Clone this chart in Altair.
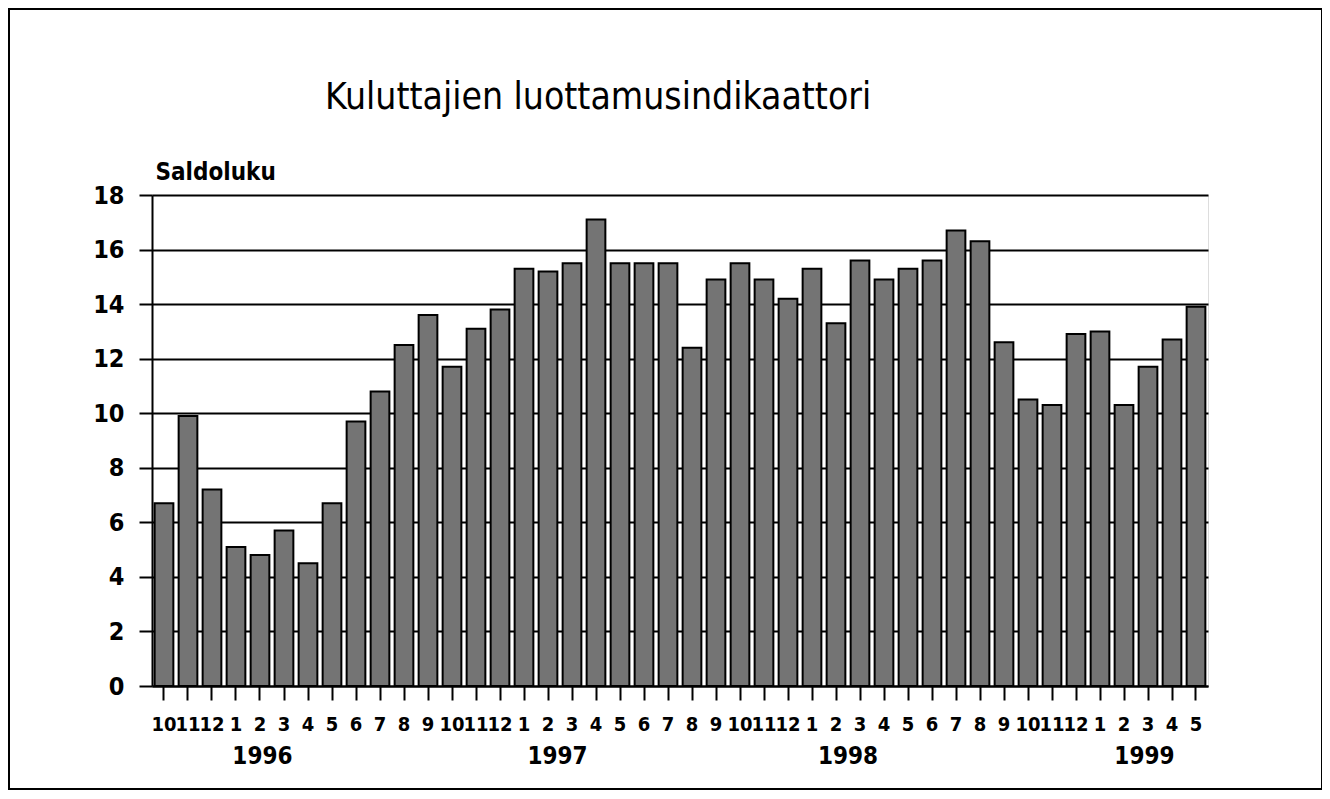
import altair as alt
import pandas as pd

# ---- data ----
years = [1995, 1995, 1995,
         1996, 1996, 1996, 1996, 1996, 1996, 1996, 1996, 1996, 1996, 1996, 1996,
         1997, 1997, 1997, 1997, 1997, 1997, 1997, 1997, 1997, 1997, 1997, 1997,
         1998, 1998, 1998, 1998, 1998, 1998, 1998, 1998, 1998, 1998, 1998, 1998,
         1999, 1999, 1999, 1999, 1999]
months = [10, 11, 12,
          1, 2, 3, 4, 5, 6, 7, 8, 9, 10, 11, 12,
          1, 2, 3, 4, 5, 6, 7, 8, 9, 10, 11, 12,
          1, 2, 3, 4, 5, 6, 7, 8, 9, 10, 11, 12,
          1, 2, 3, 4, 5]
values = [6.7, 9.9, 7.2,
          5.1, 4.8, 5.7, 4.5, 6.7, 9.7, 10.8, 12.5, 13.6, 11.7, 13.1, 13.8,
          15.3, 15.2, 15.5, 17.1, 15.5, 15.5, 15.5, 12.4, 14.9, 15.5, 14.9, 14.2,
          15.3, 13.3, 15.6, 14.9, 15.3, 15.6, 16.7, 16.3, 12.6, 10.5, 10.3, 12.9,
          13.0, 10.3, 11.7, 12.7, 13.9]
year_labels = ["1996", "1997", "1998", "1999"]
year_pos = [4.6, 16.9, 29.0, 41.35]   # position along the month axis (bar slots)
y_ticks = [0, 2, 4, 6, 8, 10, 12, 14, 16, 18]

title_text = "Kuluttajien luottamusindikaattori"
y_title = "Saldoluku"

keys = [f"{y}-{m}" for y, m in zip(years, months)]
df = pd.DataFrame({"key": keys, "value": values})
ydf = pd.DataFrame({"pos": year_pos, "year": year_labels})

FONT = "DejaVu Sans Condensed, Liberation Sans Narrow, Roboto, sans-serif"
W, H = 1056, 491

bars = alt.Chart(df).mark_bar(
    fill="#747474", stroke="black", strokeWidth=2
).encode(
    x=alt.X("key:N", sort=keys,
            scale=alt.Scale(paddingInner=0.22, paddingOuter=0.11),
            axis=alt.Axis(title=None, labelExpr="slice(datum.value, 5)",
                          labelAngle=0, labelFont=FONT, labelFontSize=20,
                          labelFontWeight="bold", labelColor="black",
                          labelPadding=14, tickSize=14, tickWidth=2,
                          tickColor="black", domainColor="black",
                          domainWidth=2, grid=False, labelOverlap=False)),
    y=alt.Y("value:Q", scale=alt.Scale(domain=[0, 18], nice=False),
            axis=alt.Axis(values=y_ticks, title=y_title, titleAngle=0,
                          titleAlign="left", titleBaseline="alphabetic",
                          titleX=3, titleY=-16, titleFont=FONT,
                          titleFontSize=24, titleFontWeight="bold",
                          titleColor="black",
                          labelFont=FONT, labelFontSize=25,
                          labelFontWeight="bold", labelColor="black",
                          labelPadding=15, tickSize=13, tickWidth=2,
                          tickColor="black", domainColor="black",
                          domainWidth=2, gridColor="black", gridWidth=2,
                          gridOpacity=1)),
)

years_layer = alt.Chart(ydf).mark_text(
    font=FONT, fontSize=24, fontWeight="bold", color="black",
    baseline="middle", align="center"
).encode(
    x=alt.X("pos:Q", scale=alt.Scale(domain=[0, 44], nice=False, zero=False),
            axis=None),
    y=alt.value(562),
    text="year:N",
)

title_layer = alt.Chart(alt.Data(values=[{"t": title_text}])).mark_text(
    font=FONT, fontSize=37, color="black", align="left",
    baseline="alphabetic"
).encode(
    x=alt.value(173), y=alt.value(-86), text="t:N"
)

frame = alt.Chart(alt.Data(values=[{"a": 1}])).mark_rect(
    fill=None, fillOpacity=0, stroke="black", strokeWidth=2
).encode(
    x=alt.value(-143), x2=alt.value(1170),
    y=alt.value(-186), y2=alt.value(594)
)

chart = alt.layer(frame, bars, years_layer, title_layer).resolve_scale(
    x="independent"
).properties(
    width=W, height=H,
    autosize=alt.AutoSizeParams(type="none"),
    padding={"left": 144, "top": 187, "right": 114, "bottom": 105},
).configure_view(
    stroke="black", strokeWidth=2
).configure(background="white")

chart.save("out.html", embed_options={"renderer": "svg", "actions": False})
